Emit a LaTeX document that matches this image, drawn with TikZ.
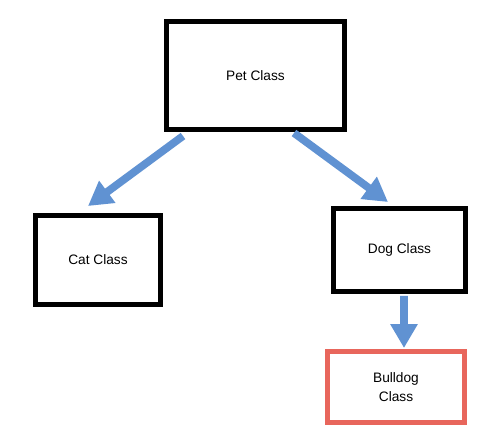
\documentclass[tikz,border=0pt]{standalone}
\usepackage{fontspec}
\setmainfont{Liberation Sans}
\usetikzlibrary{arrows.meta,shadows}
\definecolor{arrowblue}{RGB}{96,146,210}
\definecolor{bullred}{RGB}{232,102,92}

\tikzset{
  classbox/.style={draw=black, line width=0.1cm, fill=white, inner sep=0pt,
    font=\fontsize{7.8}{10.8}\selectfont, align=center,
    drop shadow={shadow xshift=0.04cm, shadow yshift=-0.04cm, opacity=0.35}},
  inherit/.style={draw=arrowblue, line width=0.155cm,
    -{Triangle[width=0.52cm, length=0.48cm]}}
}

\begin{document}
\begin{tikzpicture}[x=0.02cm, y=-0.02cm]
\useasboundingbox (0, 0) rectangle (500, 440);
\node [classbox, minimum width=3.56cm, minimum height=2.16cm] (pet) at (255.5, 75.5) {Pet Class};
\node [classbox, minimum width=2.5cm, minimum height=1.78cm] (cat) at (98, 260) {Cat Class};
\node [classbox, minimum width=2.64cm, minimum height=1.66cm] (dog) at (399.5, 250) {Dog Class};
\node [classbox, draw=bullred, minimum width=2.74cm, minimum height=1.42cm] (bulldog) at (396, 387) {Bulldog\\Class};
% inheritance arrows
\draw [inherit] ([xshift=-1.45cm, yshift=-0.08cm]pet.south) -- ([xshift=-0.2cm, yshift=0.14cm]cat.north);
\draw [inherit] ([xshift=0.77cm, yshift=-0.02cm]pet.south) -- ([xshift=-0.23cm, yshift=0.08cm]dog.north);
\draw [inherit] ([xshift=0.09cm, yshift=-0.04cm]dog.south) -- ([xshift=0.16cm, yshift=0.02cm]bulldog.north);
\end{tikzpicture}
\end{document}
